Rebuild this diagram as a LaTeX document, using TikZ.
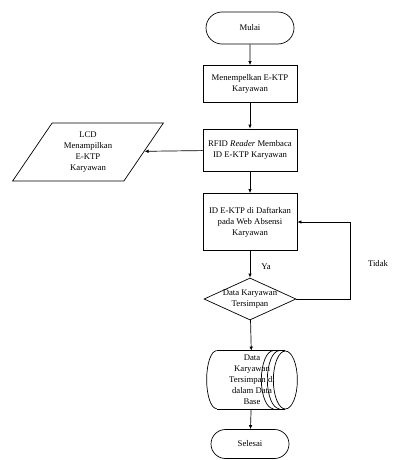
\documentclass[tikz,border=0pt]{standalone}
\usepackage{fontspec}
\setmainfont{Liberation Serif}
\usetikzlibrary{shapes.geometric,shapes.misc,arrows.meta}

\tikzset{
	every node/.style={font=\fontsize{8.7}{11}\selectfont, align=center},
	terminal/.style={rounded rectangle, draw, minimum width=90, minimum height=32, inner sep=1pt},
	process/.style={rectangle, draw, minimum width=94, inner sep=2pt},
	lcdbox/.style={trapezium, draw, trapezium left angle=57, trapezium right angle=123,
		trapezium stretches=true, minimum width=151, minimum height=58, inner sep=1pt},
	decision/.style={diamond, draw, minimum width=92, minimum height=42, inner sep=0pt},
	database/.style={rectangle, minimum width=90, minimum height=58, inner sep=0pt}
}

\begin{document}
\begin{tikzpicture}[x=1pt, y=-1pt, >={Latex[length=4pt,width=3.5pt]}, line width=0.7pt]
\useasboundingbox (0,0) rectangle (399,460);

\node [terminal] (mulai) at (250,28) {Mulai};
\node [process, minimum height=37] (tempel) at (250,84) {Menempelkan E-KTP\\Karyawan};
\node [process, minimum height=42] (rfid) at (250,150) {RFID \textit{Reader} Membaca\\ID E-KTP Karyawan};
\node [lcdbox] (lcd) at (88,152) {LCD\\Menampilkan\\E-KTP\\Karyawan};
\node [process, minimum height=57] (daftar) at (250,222) {ID E-KTP di Daftarkan\\pada Web Absensi\\Karyawan};
\node [decision] (cek) at (250,299) {};
\node (cektext) at (cek) {Data Karyawan\\Tersimpan};
\node [database] (db) at (252,380) {Data\\Karyawan\\Tersimpan di\\dalam Data\\Base};
\node [terminal, minimum width=80, minimum height=29] (selesai) at (250,444) {Selesai};

%labels of the branches
\node (ya) at (266,267) {Ya};
\node (tidak) at (378,264) {Tidak};

%drawing the disk symbol round the text
\draw ([xshift=10pt]db.north west) -- ([xshift=-12pt]db.north east);
\draw ([xshift=10pt]db.south west) -- ([xshift=-12pt]db.south east);
\draw ([xshift=10pt]db.north west) arc [start angle=90, end angle=270, x radius=10pt, y radius=29pt];
\draw ([xshift=-12pt]db.east) ellipse [x radius=12pt, y radius=29pt];
\foreach \s in {18,24}
	\draw ([xshift=-\s pt]db.north east) arc [start angle=90, end angle=270, x radius=12pt, y radius=29pt];

%connectors
\foreach \a/\b in {mulai/tempel, tempel/rfid, rfid/daftar, daftar/cek, cek/db, db/selesai}
	\draw [->] (\a) -- (\b);
\draw [->] (rfid) -- (lcd);

\coordinate (balik) at (350,299);
\draw [->] (cek.east) -- (balik) |- (daftar.east);

\end{tikzpicture}
\end{document}
